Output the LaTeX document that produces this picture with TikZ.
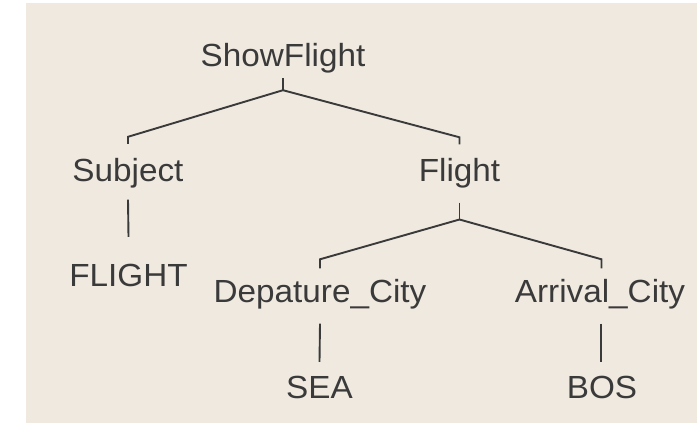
\documentclass[tikz,border=0pt]{standalone}
\usepackage{fontspec}
\setmainfont{Liberation Sans}[FakeStretch=1.04]
\usetikzlibrary{calc}
\definecolor{bgbeige}{RGB}{240,233,224}
\definecolor{inkgrey}{RGB}{58,58,58}
\tikzset{
  lbl/.style={font=\fontsize{32}{36}\selectfont, text=inkgrey, inner sep=0pt,
    text height=23pt, text depth=0pt, anchor=base},
  edge/.style={draw=inkgrey, line width=1.9pt, line cap=butt, line join=miter}
}
\begin{document}
\begin{tikzpicture}[x=1pt,y=-1pt]
\useasboundingbox (0,0) rectangle (697,423);
\fill[bgbeige] (26,3) rectangle (697,423);
% nodes
\node[lbl] (sf)   at (283,66)    {ShowFlight};
\node[lbl] (subj) at (128,181)   {Subject};
\node[lbl] (fl)   at (459.5,181.5) {Flight};
\node[lbl] (FL)   at (128.5,286) {FLIGHT};
\node[lbl] (dep)  at (320,302.5) {Depature\_City};
\node[lbl] (arr)  at (600,302.5) {Arrival\_City};
\node[lbl] (sea)  at (319.5,398) {SEA};
\node[lbl] (bos)  at (602,398)   {BOS};
% ShowFlight -> Subject, Flight
\coordinate (a1) at ($(sf.south)+(0,24)$);
\draw[edge] ($(sf.south)+(0,12)$) -- (a1);
\draw[edge] (a1) -- ($(subj.north)+(0,-21)$) -- ($(subj.north)+(0,-14)$);
\draw[edge] (a1) -- ($(fl.north)+(0,-21)$) -- ($(fl.north)+(0,-14)$);
% Subject -> FLIGHT
\draw[edge] ($(subj.south)+(0,18.5)$) -- ($(FL.north)+(0,-26)$);
% Flight -> Depature_City, Arrival_City
\coordinate (a2) at ($(fl.south)+(0,37.8)$);
\draw[edge] ($(fl.south)+(0,20.8)$) -- (a2);
\draw[edge] (a2) -- ($(dep.north)+(0,-20)$) -- ($(dep.north)+(0,-11)$);
\draw[edge] (a2) -- ($(arr.north)+(1.5,-20)$) -- ($(arr.north)+(1.5,-11)$);
% leaves
\draw[edge] ($(dep.south)+(0,21)$) -- ($(sea.north)+(0,-13)$);
\draw[edge] ($(arr.south)+(1,21)$) -- ($(bos.north)+(-1,-13)$);
\end{tikzpicture}
\end{document}
